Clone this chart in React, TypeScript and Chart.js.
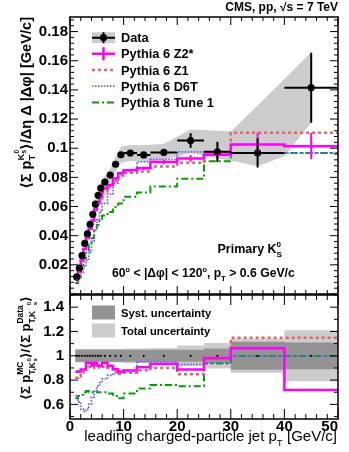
import React, { useEffect, useRef } from "react";
import { Chart, registerables } from "chart.js";

Chart.register(...registerables);

// ---------------- data ----------------
const binEdges = [1, 1.5, 2, 2.5, 3, 3.5, 4, 4.5, 5, 5.5, 6, 7, 8, 9, 10, 12.5, 15, 20, 25, 30, 40, 50];

const dataValues = [0.0117, 0.0177, 0.0264, 0.0347, 0.0412, 0.0478, 0.0547, 0.0616, 0.0677, 0.0726, 0.0768, 0.0816, 0.089, 0.0955, 0.0967, 0.0954, 0.0971, 0.1053, 0.0975, 0.0968, 0.1415];
const dataErrors = [0.0004, 0.0004, 0.0005, 0.0005, 0.0005, 0.0006, 0.0006, 0.0007, 0.0007, 0.0008, 0.0008, 0.0009, 0.001, 0.0012, 0.0012, 0.0014, 0.002, 0.005, 0.007, 0.01, 0.024];

const z2Values = [0.0102, 0.0154, 0.0234, 0.0308, 0.0388, 0.045, 0.0503, 0.058, 0.0623, 0.0668, 0.0724, 0.0747, 0.0792, 0.0829, 0.0849, 0.0863, 0.0905, 0.093, 0.0955, 0.1026, 0.1014];
const z2Errors = [0.0003, 0.0003, 0.0003, 0.0004, 0.0004, 0.0004, 0.0005, 0.0005, 0.0005, 0.0006, 0.0006, 0.0007, 0.0008, 0.0009, 0.001, 0.0012, 0.0015, 0.0023, 0.003, 0.008, 0.009];
const z1Values = [0.0096, 0.0147, 0.0224, 0.0302, 0.0371, 0.0435, 0.0492, 0.0561, 0.0616, 0.0653, 0.0699, 0.0734, 0.0774, 0.0812, 0.0832, 0.084, 0.0874, 0.09, 0.0968, 0.1106, 0.1106];
const d6tValues = [0.0078, 0.011, 0.0148, 0.0187, 0.0231, 0.0287, 0.0361, 0.0437, 0.0508, 0.0566, 0.0622, 0.0685, 0.0761, 0.0831, 0.0851, 0.0906, 0.0923, 0.0975, 0.0964, 0.0968, 0.0968];
const p8Values = [0.0076, 0.0119, 0.018, 0.0243, 0.0293, 0.0335, 0.0383, 0.0437, 0.0474, 0.0508, 0.0538, 0.0563, 0.0596, 0.0621, 0.0667, 0.0696, 0.0738, 0.079, 0.091, 0.0968, 0.0968];

const bandX = [1.25, 1.75, 2.25, 2.75, 3.25, 3.75, 4.25, 4.75, 5.25, 5.75, 6.5, 7.5, 8.5, 9.5, 11.25, 13.75, 17.5, 22.5, 27.5, 30, 35, 40, 45];
const bandLow = [0.0102, 0.016, 0.0244, 0.0325, 0.0387, 0.045, 0.0517, 0.0584, 0.0642, 0.0689, 0.0728, 0.0771, 0.084, 0.09, 0.0912, 0.0905, 0.092, 0.0968, 0.093, 0.0915, 0.0876, 0.0945, 0.1177];
const bandHigh = [0.0132, 0.0194, 0.0284, 0.0369, 0.0437, 0.0506, 0.0577, 0.0648, 0.0712, 0.0763, 0.0808, 0.0861, 0.094, 0.101, 0.1022, 0.102, 0.103, 0.1128, 0.112, 0.1115, 0.1293, 0.1475, 0.1658];

const z2Ratio = [0.868, 0.87, 0.888, 0.888, 0.942, 0.942, 0.92, 0.942, 0.92, 0.92, 0.942, 0.915, 0.89, 0.868, 0.878, 0.905, 0.932, 0.888, 0.979, 1.061, 0.718];
const z1Ratio = [0.82, 0.83, 0.85, 0.87, 0.9, 0.91, 0.9, 0.91, 0.91, 0.9, 0.91, 0.9, 0.87, 0.85, 0.86, 0.88, 0.9, 0.849, 0.992, 1.148, 1.148];
const d6tRatio = [0.67, 0.62, 0.56, 0.54, 0.56, 0.6, 0.66, 0.71, 0.75, 0.78, 0.81, 0.84, 0.855, 0.87, 0.88, 0.95, 0.95, 0.93, 0.94, 0.998, 0.998];
const p8Ratio = [0.65, 0.67, 0.68, 0.7, 0.71, 0.7, 0.7, 0.71, 0.7, 0.7, 0.7, 0.69, 0.67, 0.65, 0.69, 0.73, 0.76, 0.75, 0.937, 0.998, 0.998];

const systUnc = [0.05, 0.05, 0.05, 0.05, 0.05, 0.05, 0.05, 0.05, 0.05, 0.05, 0.05, 0.05, 0.05, 0.05, 0.05, 0.05, 0.05, 0.05, 0.06, 0.115, 0.11];
const totalUnc = [0.055, 0.055, 0.055, 0.055, 0.055, 0.055, 0.055, 0.055, 0.055, 0.055, 0.055, 0.055, 0.055, 0.055, 0.06, 0.06, 0.065, 0.085, 0.105, 0.14, 0.21];

const xTickValues = [0, 10, 20, 30, 40, 50];
const xTickLabels = ["0", "10", "20", "30", "40", "50"];
const upperYTickValues = [0.02, 0.04, 0.06, 0.08, 0.1, 0.12, 0.14, 0.16, 0.18];
const upperYTickLabels = ["0.02", "0.04", "0.06", "0.08", "0.1", "0.12", "0.14", "0.16", "0.18"];
const lowerYTickValues = [0.6, 0.8, 1, 1.2, 1.4];
const lowerYTickLabels = ["0.6", "0.8", "1", "1.2", "1.4"];

const legendLabels = ["Data", "Pythia 6 Z2*", "Pythia 6 Z1", "Pythia 6 D6T", "Pythia 8 Tune 1"];
const ratioLegendLabels = ["Syst. uncertainty", "Total uncertainty"];

// ---------------- styles ----------------
const FONT = '"Liberation Sans", "DejaVu Sans", Arial, sans-serif';
const MAGENTA = "#ff00ff";
const RED = "#e06464";
const BLUE = "#6464f0";
const GREEN = "#00a000";
const LIGHT = "#cccccc";
const DARK = "#939393";
const LOWER_TOP = 289;

const centers = binEdges.slice(0, -1).map((e, i) => (e + binEdges[i + 1]) / 2);

function stepData(vals: number[]) {
  const pts = vals.map((v, i) => ({ x: binEdges[i], y: v }));
  pts.push({ x: binEdges[vals.length], y: vals[vals.length - 1] });
  return pts;
}

type Seg = { t: string; s?: number; dy?: number; back?: boolean };

function drawRich(ctx: CanvasRenderingContext2D, segs: Seg[], x: number, y: number, size: number, weight: string, align: "left" | "right" | "center") {
  const items: { t: string; fs: number; sx: number; dy: number }[] = [];
  let cx = 0, prevStart = 0, prevEnd = 0;
  for (const sg of segs) {
    const fs = size * (sg.s ?? 1);
    ctx.font = `${weight} ${fs}px ${FONT}`;
    const w = ctx.measureText(sg.t).width;
    if (sg.back) {
      items.push({ t: sg.t, fs, sx: prevStart, dy: (sg.dy ?? 0) * size });
      cx = Math.max(prevEnd, prevStart + w);
    } else {
      items.push({ t: sg.t, fs, sx: cx, dy: (sg.dy ?? 0) * size });
      prevStart = cx; prevEnd = cx + w; cx = cx + w;
    }
  }
  const off = align === "left" ? 0 : align === "right" ? -cx : -cx / 2;
  ctx.textAlign = "left";
  ctx.textBaseline = "alphabetic";
  for (const it of items) {
    ctx.font = `${weight} ${it.fs}px ${FONT}`;
    ctx.fillText(it.t, x + off + it.sx, y + it.dy);
  }
}

function drawFrameTicks(chart: any, xMinor: number[], yMinor: number[], yMajor: number[], xLen: [number, number], yLen: [number, number]) {
  const { ctx, chartArea: a, scales } = chart;
  const xs = scales.x, ys = scales.y;
  ctx.save();
  ctx.strokeStyle = "#000";
  ctx.lineWidth = 1;
  ctx.beginPath();
  for (const v of xMinor) {
    const px = xs.getPixelForValue(v);
    const len = xTickValues.includes(v) ? xLen[0] : xLen[1];
    ctx.moveTo(px, a.bottom); ctx.lineTo(px, a.bottom - len);
    ctx.moveTo(px, a.top); ctx.lineTo(px, a.top + len);
  }
  for (const v of yMinor) {
    const py = ys.getPixelForValue(v);
    const major = yMajor.some((m) => Math.abs(m - v) < 1e-9);
    const len = major ? yLen[0] : yLen[1];
    ctx.moveTo(a.left, py); ctx.lineTo(a.left + len, py);
    ctx.moveTo(a.right, py); ctx.lineTo(a.right - len, py);
  }
  ctx.stroke();
  ctx.lineWidth = 1.5;
  ctx.strokeRect(a.left, a.top, a.right - a.left, a.bottom - a.top);
  ctx.restore();
}

const xMinorTicks: number[] = [];
for (let k = 0; k <= 25; k++) xMinorTicks.push(k * 2);
const upperYMinor: number[] = [];
for (let k = 0; k <= 47; k++) upperYMinor.push(Math.round(k * 4) / 1000);
const lowerYMinor: number[] = [];
for (let k = 5; k <= 15; k++) lowerYMinor.push(k / 10);

const upperPlugin = {
  id: "upperDecor",
  afterDatasetsDraw(chart: any) {
    const { ctx, scales } = chart;
    const xs = scales.x, ys = scales.y;
    ctx.save();
    ctx.strokeStyle = MAGENTA;
    ctx.lineWidth = 2;
    ctx.beginPath();
    z2Values.forEach((v, i) => {
      const px = xs.getPixelForValue(centers[i]);
      ctx.moveTo(px, ys.getPixelForValue(v - z2Errors[i]));
      ctx.lineTo(px, ys.getPixelForValue(v + z2Errors[i]));
    });
    ctx.stroke();
    ctx.strokeStyle = "#000";
    ctx.lineWidth = 2;
    ctx.beginPath();
    dataValues.forEach((v, i) => {
      const px = xs.getPixelForValue(centers[i]);
      const py = ys.getPixelForValue(v);
      ctx.moveTo(xs.getPixelForValue(binEdges[i]), py);
      ctx.lineTo(xs.getPixelForValue(binEdges[i + 1]), py);
      ctx.moveTo(px, ys.getPixelForValue(v - dataErrors[i]));
      ctx.lineTo(px, ys.getPixelForValue(v + dataErrors[i]));
    });
    ctx.stroke();
    ctx.restore();
  },
  afterDraw(chart: any) {
    const { ctx, scales, chartArea: a } = chart;
    const ys = scales.y;
    drawFrameTicks(chart, xMinorTicks, upperYMinor, [0, ...upperYTickValues], [8, 4], [8, 4]);
    ctx.save();
    ctx.fillStyle = "#000";
    ctx.font = `bold 15px ${FONT}`;
    ctx.textAlign = "right";
    ctx.textBaseline = "middle";
    upperYTickValues.forEach((v, i) => ctx.fillText(upperYTickLabels[i], 68, ys.getPixelForValue(v)));
    drawRich(ctx, [{ t: "CMS, pp, √s = 7 TeV" }], 338, 11, 12, "bold", "right");
    drawRich(ctx, [{ t: "Primary K" }, { t: "0", s: 0.65, dy: -0.45 }, { t: "S", s: 0.65, dy: 0.3, back: true }], 282, 253, 12.5, "bold", "right");
    drawRich(ctx, [
      { t: "60" }, { t: "o", s: 0.6, dy: -0.45 }, { t: " < |Δφ| < 120" }, { t: "o", s: 0.6, dy: -0.45 },
      { t: ", p" }, { t: "T", s: 0.65, dy: 0.3 }, { t: " > 0.6 GeV/c" },
    ], 112, 277, 12.2, "bold", "left");
    ctx.save();
    ctx.translate(31, a.top);
    ctx.rotate(-Math.PI / 2);
    drawRich(ctx, [
      { t: "⟨Σ p" }, { t: "T", s: 0.65, dy: 0.3 }, { t: "K", s: 0.65, dy: -0.5, back: true },
      { t: "0", s: 0.45, dy: -0.85 }, { t: "s", s: 0.45, dy: -0.35, back: true },
      { t: "⟩/Δη Δ |Δφ| [GeV/c]" },
    ], 0, 0, 14.6, "bold", "right");
    ctx.restore();
    const lx0 = 92, lx1 = 115, lxm = 103.5;
    const rows = [37.7, 53.7, 70, 86.2, 102.5];
    ctx.fillStyle = LIGHT;
    ctx.fillRect(lx0, rows[0] - 5.5, lx1 - lx0, 11);
    ctx.strokeStyle = "#000"; ctx.lineWidth = 2;
    ctx.beginPath();
    ctx.moveTo(lx0, rows[0]); ctx.lineTo(lx1, rows[0]);
    ctx.moveTo(lxm, rows[0] - 5.5); ctx.lineTo(lxm, rows[0] + 5.5);
    ctx.stroke();
    ctx.fillStyle = "#000";
    ctx.beginPath(); ctx.arc(lxm, rows[0], 3.6, 0, Math.PI * 2); ctx.fill();
    ctx.strokeStyle = MAGENTA; ctx.lineWidth = 2.5;
    ctx.beginPath();
    ctx.moveTo(lx0, rows[1]); ctx.lineTo(lx1, rows[1]);
    ctx.moveTo(lxm, rows[1] - 6.5); ctx.lineTo(lxm, rows[1] + 6.5);
    ctx.stroke();
    const lineRow = (y: number, color: string, w: number, dash: number[]) => {
      ctx.strokeStyle = color; ctx.lineWidth = w; ctx.setLineDash(dash);
      ctx.beginPath(); ctx.moveTo(lx0, y); ctx.lineTo(lx1, y); ctx.stroke();
      ctx.setLineDash([]);
    };
    lineRow(rows[2], RED, 2.5, [3, 3]);
    lineRow(rows[3], BLUE, 1.8, [1.5, 1.5]);
    lineRow(rows[4], GREEN, 2, [7, 3, 2, 3]);
    ctx.fillStyle = "#000";
    legendLabels.forEach((l, i) => drawRich(ctx, [{ t: l }], 121, rows[i] + 4.6, 12.8, "bold", "left"));
    ctx.restore();
  },
};

const lowerPlugin = {
  id: "lowerDecor",
  beforeDatasetsDraw(chart: any) {
    const { ctx, scales } = chart;
    const xs = scales.x, ys = scales.y;
    const band = (unc: number[], color: string) => {
      ctx.beginPath();
      unc.forEach((u, i) => {
        const x0 = xs.getPixelForValue(binEdges[i]);
        const x1 = xs.getPixelForValue(binEdges[i + 1]);
        const py = ys.getPixelForValue(1 + u);
        if (i === 0) ctx.moveTo(x0, py); else ctx.lineTo(x0, py);
        ctx.lineTo(x1, py);
      });
      for (let i = unc.length - 1; i >= 0; i--) {
        const x0 = xs.getPixelForValue(binEdges[i]);
        const x1 = xs.getPixelForValue(binEdges[i + 1]);
        const py = ys.getPixelForValue(1 - unc[i]);
        ctx.lineTo(x1, py);
        ctx.lineTo(x0, py);
      }
      ctx.closePath();
      ctx.fillStyle = color;
      ctx.fill();
    };
    ctx.save();
    band(totalUnc, LIGHT);
    band(systUnc, DARK);
    ctx.restore();
  },
  afterDraw(chart: any) {
    const { ctx, scales, chartArea: a } = chart;
    const xs = scales.x, ys = scales.y;
    drawFrameTicks(chart, xMinorTicks, lowerYMinor, lowerYTickValues, [10, 5], [8, 4]);
    ctx.save();
    ctx.fillStyle = "#000";
    ctx.font = `bold 15px ${FONT}`;
    ctx.textAlign = "right";
    ctx.textBaseline = "middle";
    lowerYTickValues.forEach((v, i) => ctx.fillText(lowerYTickLabels[i], 64, ys.getPixelForValue(v)));
    ctx.textBaseline = "alphabetic";
    xTickValues.forEach((v, i) => {
      const px = xs.getPixelForValue(v);
      ctx.textAlign = i === xTickValues.length - 1 ? "right" : "center";
      ctx.fillText(xTickLabels[i], i === xTickValues.length - 1 ? a.right : px, 431 - LOWER_TOP);
    });
    drawRich(ctx, [{ t: "leading charged-particle jet p" }, { t: "T", s: 0.65, dy: 0.3 }, { t: " [GeV/c]" }], 337, 441 - LOWER_TOP, 15, "normal", "right");
    ctx.save();
    ctx.translate(30, 296 - LOWER_TOP);
    ctx.rotate(-Math.PI / 2);
    drawRich(ctx, [
      { t: "⟨Σ p" }, { t: "T,K", s: 0.65, dy: 0.35 }, { t: "MC", s: 0.65, dy: -0.55, back: true },
      { t: "0", s: 0.45, dy: 0.05 }, { t: "s", s: 0.45, dy: 0.5, back: true },
      { t: "⟩/⟨Σ p" }, { t: "T,K", s: 0.65, dy: 0.35 }, { t: "Data", s: 0.65, dy: -0.55, back: true },
      { t: "0", s: 0.45, dy: 0.05 }, { t: "s", s: 0.45, dy: 0.5, back: true },
      { t: "⟩" },
    ], 0, 0, 13, "bold", "right");
    ctx.restore();
    const rows = [312.5 - LOWER_TOP, 330.5 - LOWER_TOP];
    ctx.fillStyle = DARK;
    ctx.fillRect(92, rows[0] - 7, 23, 14);
    ctx.fillStyle = LIGHT;
    ctx.fillRect(92, rows[1] - 7, 23, 14);
    ctx.fillStyle = "#000";
    ratioLegendLabels.forEach((l, i) => drawRich(ctx, [{ t: l }], 121, rows[i] + 4.2, 11.2, "bold", "left"));
    ctx.restore();
  },
};

function stepDataset(vals: number[], color: string, width: number, dash: number[], order: number) {
  return {
    data: stepData(vals),
    stepped: "before" as const,
    borderColor: color,
    borderWidth: width,
    borderDash: dash,
    pointRadius: 0,
    fill: false,
    order,
  };
}

function upperConfig(): any {
  return {
    type: "line",
    data: {
      datasets: [
        {
          data: centers.map((c, i) => ({ x: c, y: dataValues[i] })),
          showLine: false,
          pointRadius: 3.6,
          pointBackgroundColor: "#000",
          pointBorderWidth: 0,
          borderColor: "#000",
          order: 0,
        },
        stepDataset(z2Values, MAGENTA, 2.5, [], 1),
        stepDataset(z1Values, RED, 2.5, [3, 3], 2),
        stepDataset(d6tValues, BLUE, 1.8, [1.5, 1.5], 3),
        stepDataset(p8Values, GREEN, 2, [7, 3, 2, 3], 4),
        {
          data: bandX.map((x, i) => ({ x, y: bandLow[i] })),
          borderColor: "rgba(0,0,0,0)",
          borderWidth: 0,
          pointRadius: 0,
          fill: false,
          order: 5,
        },
        {
          data: bandX.map((x, i) => ({ x, y: bandHigh[i] })),
          borderColor: "rgba(0,0,0,0)",
          borderWidth: 0,
          pointRadius: 0,
          fill: 5,
          backgroundColor: LIGHT,
          order: 6,
        },
      ],
    },
    options: {
      animation: false,
      responsive: false,
      maintainAspectRatio: false,
      events: [],
      layout: { padding: { left: 70, right: 11, top: 17, bottom: 6 } },
      plugins: { legend: { display: false }, tooltip: { enabled: false } },
      scales: {
        x: { type: "linear", min: 0, max: 50, display: false },
        y: { type: "linear", min: 0, max: 0.19, display: false },
      },
    },
    plugins: [upperPlugin],
  };
}

function lowerConfig(): any {
  return {
    type: "line",
    data: {
      datasets: [
        {
          data: centers.map((c) => ({ x: c, y: 1 })),
          showLine: false,
          pointRadius: 1.1,
          pointBackgroundColor: "#000",
          pointBorderWidth: 0,
          borderColor: "#000",
          order: 0,
        },
        stepDataset(z2Ratio, MAGENTA, 2.5, [], 1),
        stepDataset(z1Ratio, RED, 2.5, [3, 3], 2),
        stepDataset(d6tRatio, BLUE, 1.8, [1.5, 1.5], 3),
        stepDataset(p8Ratio, GREEN, 2, [7, 3, 2, 3], 4),
      ],
    },
    options: {
      animation: false,
      responsive: false,
      maintainAspectRatio: false,
      events: [],
      layout: { padding: { left: 70, right: 11, top: 6, bottom: 33 } },
      plugins: { legend: { display: false }, tooltip: { enabled: false } },
      scales: {
        x: { type: "linear", min: 0, max: 50, display: false },
        y: { type: "linear", min: 0.48, max: 1.5, display: false },
      },
    },
    plugins: [lowerPlugin],
  };
}

export default function App() {
  const upRef = useRef<HTMLCanvasElement>(null);
  const loRef = useRef<HTMLCanvasElement>(null);
  useEffect(() => {
    document.body.style.margin = "0";
    const up = new Chart(upRef.current as HTMLCanvasElement, upperConfig());
    const lo = new Chart(loRef.current as HTMLCanvasElement, lowerConfig());
    return () => {
      up.destroy();
      lo.destroy();
    };
  }, []);
  return (
    <div style={{ position: "relative", width: 349, height: 452, background: "#fff", overflow: "hidden" }}>
      <canvas ref={upRef} width={349} height={300} style={{ position: "absolute", left: 0, top: 0 }} />
      <canvas ref={loRef} width={349} height={163} style={{ position: "absolute", left: 0, top: LOWER_TOP }} />
    </div>
  );
}
